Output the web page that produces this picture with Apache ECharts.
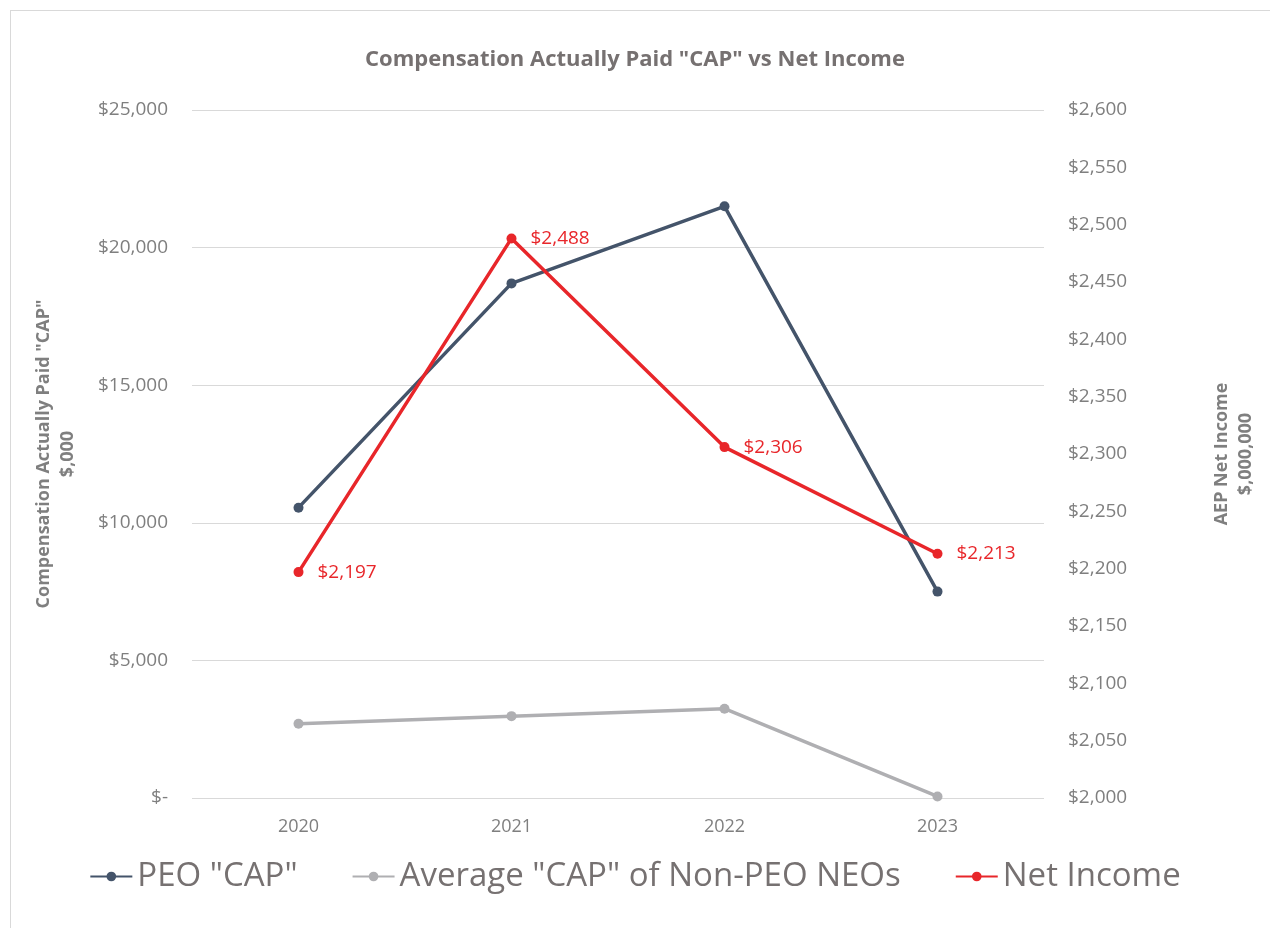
<!DOCTYPE html>
<html>
<head>
<meta charset="utf-8">
<script src="https://cdn.jsdelivr.net/npm/echarts@6/dist/echarts.min.js"></script>
<style>
  html, body { margin: 0; padding: 0; background: #fff; }
  #frame { position: absolute; left: 10px; top: 10px; width: 1270px; height: 928px; border: 1px solid #d9d9d9; box-sizing: border-box; }
  #chart { position: absolute; left: 0; top: 0; width: 1270px; height: 928px; }
</style>
</head>
<body>
<div id="frame"></div>
<div id="chart"></div>
<script>
// 数据
const years = ['2020', '2021', '2022', '2023']
const peoCap = [10550, 18700, 21500, 7500]
const neoCap = [2700, 2975, 3245, 55]
const netIncome = [2197, 2488, 2306, 2213]

const font = '"Open Sans", "Noto Sans", sans-serif'
const gray = '#7f7f7f'

const chart = echarts.init(document.getElementById('chart'))

const fmtLeft = v => v === 0 ? '$-' : '$' + v.toLocaleString('en-US')
const fmtRight = v => '$' + v.toLocaleString('en-US')

const options = {
  animation: false,
  textStyle: { fontFamily: font },
  title: {
    text: 'Compensation Actually Paid "CAP" vs Net Income',
    left: 'center',
    top: 44,
    textStyle: { fontSize: 22, fontWeight: 'bold', color: '#767171', fontFamily: font }
  },
  grid: { left: 192, right: 226, top: 110, bottom: 130 },
  legend: {
    bottom: 30,
    left: 'center',
    itemWidth: 42,
    itemHeight: 12,
    itemGap: 54,
    textStyle: { fontSize: 33, color: '#767171', fontFamily: font },
    data: ['PEO "CAP"', 'Average "CAP" of Non-PEO NEOs', 'Net Income']
  },
  xAxis: {
    type: 'category',
    data: years,
    axisLine: { show: false },
    axisTick: { show: false },
    axisLabel: { color: gray, fontSize: 18, margin: 20 }
  },
  yAxis: [{
    type: 'value',
    min: 0,
    max: 25000,
    interval: 5000,
    name: 'Compensation Actually Paid "CAP"\n$,000',
    nameLocation: 'middle',
    nameGap: 112,
    nameTextStyle: { fontSize: 18, fontWeight: 'bold', color: gray, lineHeight: 24 },
    axisLine: { show: false },
    axisTick: { show: false },
    axisLabel: { color: gray, fontSize: 19, margin: 24, formatter: fmtLeft },
    splitLine: { lineStyle: { color: '#d9d9d9', width: 1 } }
  }, {
    type: 'value',
    min: 2000,
    max: 2600,
    interval: 50,
    name: 'AEP Net Income\n$,000,000',
    nameLocation: 'middle',
    nameGap: 166,
    nameRotate: 90,
    nameTextStyle: { fontSize: 18, fontWeight: 'bold', color: gray, lineHeight: 24 },
    axisLine: { show: false },
    axisTick: { show: false },
    axisLabel: { color: gray, fontSize: 19, margin: 24, formatter: fmtRight },
    splitLine: { show: false }
  }],
  series: [{
    name: 'PEO "CAP"',
    type: 'line',
    data: peoCap,
    symbol: 'circle',
    symbolSize: 10,
    lineStyle: { color: '#44546a', width: 3.5 },
    itemStyle: { color: '#44546a' }
  }, {
    name: 'Average "CAP" of Non-PEO NEOs',
    type: 'line',
    data: neoCap,
    symbol: 'circle',
    symbolSize: 10,
    lineStyle: { color: '#afafb2', width: 3.5 },
    itemStyle: { color: '#afafb2' }
  }, {
    name: 'Net Income',
    type: 'line',
    yAxisIndex: 1,
    data: netIncome,
    symbol: 'circle',
    symbolSize: 10,
    lineStyle: { color: '#e8262a', width: 3.5 },
    itemStyle: { color: '#e8262a' },
    label: {
      show: true,
      position: 'right',
      distance: 14,
      color: '#e8262a',
      fontSize: 19,
      formatter: p => fmtRight(p.value)
    }
  }]
}
chart.setOption(options)
</script>
</body>
</html>
